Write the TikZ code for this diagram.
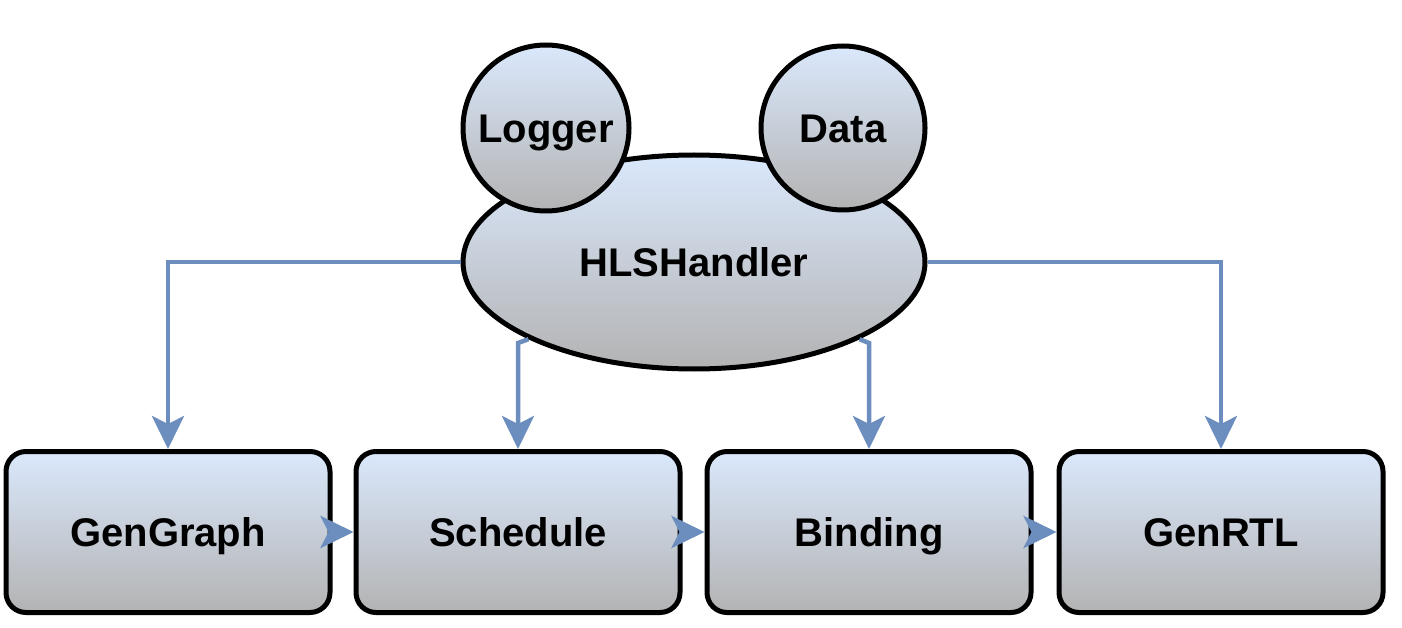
\documentclass[tikz,border=0pt]{standalone}
\usepackage{fontspec}
\setmainfont{Liberation Sans}
\usetikzlibrary{arrows.meta,shapes.geometric}
\definecolor{topc}{RGB}{218,232,252}
\definecolor{botc}{RGB}{179,179,179}
\definecolor{conncol}{RGB}{108,142,191}
\begin{document}
\begin{tikzpicture}[x=1pt,y=-1pt,
  shadebox/.style={draw=black,line width=5pt,top color=topc,bottom color=botc,
    font=\fontsize{40}{48}\selectfont\bfseries,inner sep=0pt,text height=29pt,text depth=0pt},
  stagebox/.style={shadebox,rectangle,rounded corners=20pt,minimum width=324pt,minimum height=161pt},
  conn/.style={draw=conncol,line width=4.5pt,-{Stealth[length=33pt,width=32pt,inset=8pt,color=conncol]}}]
\useasboundingbox (0,0) rectangle (1402,628);
\node[shadebox,ellipse,minimum width=462pt,minimum height=214pt] (H) at (694,262) {HLSHandler};
\node[shadebox,circle,minimum size=166pt] (L) at (546,128) {Logger};
\node[shadebox,circle,minimum size=164pt] (D) at (843,128) {Data};
\node[stagebox] (G) at (168,532) {GenGraph};
\node[stagebox] (S) at (518,532) {Schedule};
\node[stagebox] (B) at (869,532) {Binding};
\node[stagebox] (R) at (1221,532) {GenRTL};
\coordinate (b1) at (518,343);
\coordinate (b2) at (869,343);
\draw[conn] (H.west) -| (G.north);
\draw[conn] (H.east) -| (R.north);
\draw[conn] (H.-155) -- (b1) -- (S.north);
\draw[conn] (H.-25) -- (b2) -- (B.north);
\draw[conn] (G.east) -- (S.west);
\draw[conn] (S.east) -- (B.west);
\draw[conn] (B.east) -- (R.west);
\end{tikzpicture}
\end{document}
